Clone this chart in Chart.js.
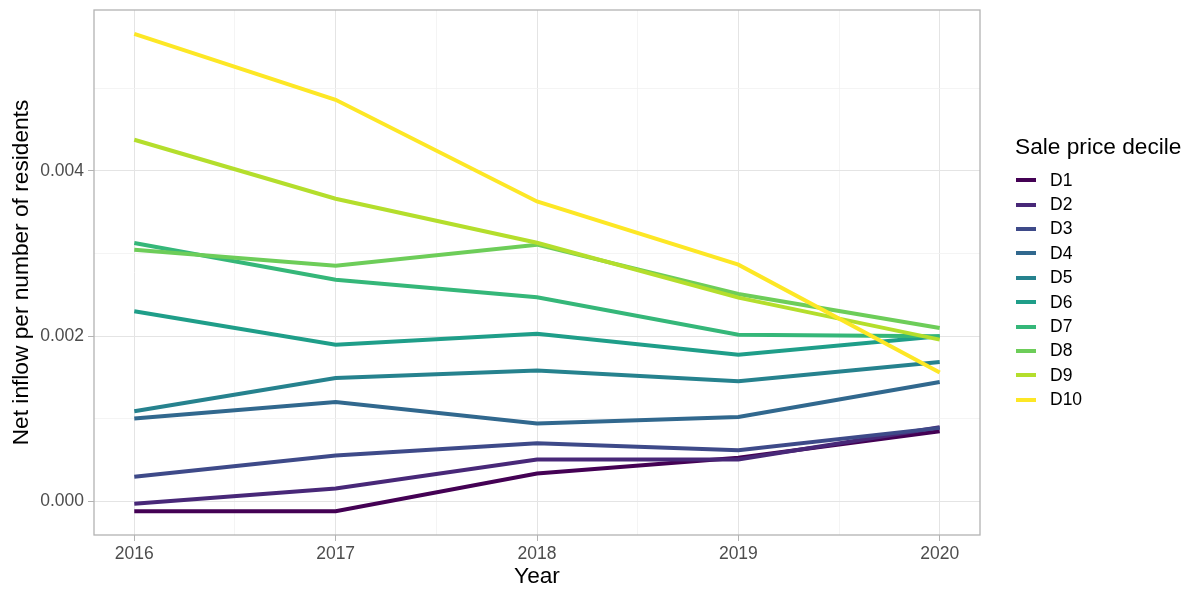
<!DOCTYPE html>
<html>
<head>
<meta charset="utf-8">
<script src="https://cdn.jsdelivr.net/npm/chart.js@4.4.1/dist/chart.umd.min.js"></script>
<style>
  html, body { margin: 0; padding: 0; background: #fff; }
  #wrap { position: relative; width: 1192px; height: 593px; }
  #legend { position: absolute; left: 1015px; top: 132px; font-family: "Liberation Sans", Arial, sans-serif; }
  #legend .title { font-size: 22.7px; color: #000; height: 36px; line-height: 28px; }
  #legend .row { height: 24.4px; display: flex; align-items: center; font-size: 17.5px; color: #000; }
  #legend .key { width: 20px; height: 4px; margin-left: 1px; margin-right: 14px; }
</style>
</head>
<body>
<div id="wrap">
  <canvas id="myChart" width="1192" height="593"></canvas>
  <div id="legend"></div>
</div>
<script>
'use strict';

// categories
var years = [2016, 2017, 2018, 2019, 2020];
var deciles = ['D1', 'D2', 'D3', 'D4', 'D5', 'D6', 'D7', 'D8', 'D9', 'D10'];

// series values
var d1  = [-0.000117, -0.000117, 0.000338, 0.000528, 0.000850];
var d2  = [-0.000028, 0.000157, 0.000508, 0.000508, 0.000898];
var d3  = [0.000298, 0.000556, 0.000705, 0.000620, 0.000890];
var d4  = [0.001003, 0.001204, 0.000943, 0.001023, 0.001446];
var d5  = [0.001091, 0.001494, 0.001583, 0.001454, 0.001688];
var d6  = [0.002300, 0.001897, 0.002030, 0.001776, 0.001998];
var d7  = [0.003126, 0.002683, 0.002469, 0.002018, 0.001998];
var d8  = [0.003045, 0.002852, 0.003106, 0.002510, 0.002099];
var d9  = [0.004375, 0.003662, 0.003130, 0.002465, 0.001958];
var d10 = [0.005656, 0.004858, 0.003629, 0.002864, 0.001559];

// tick labels
var yMajor = [0, 0.002, 0.004];
var yMinor = [0.001, 0.003, 0.005];
var xMinor = [2016.5, 2017.5, 2018.5, 2019.5];

var series = [d1, d2, d3, d4, d5, d6, d7, d8, d9, d10];
var colours = ['#440154', '#482878', '#3E4A89', '#31688E', '#26828E',
               '#1F9E89', '#35B779', '#6DCD59', '#B4DE2C', '#FDE725'];

var FONT = '"Liberation Sans", Arial, sans-serif';

// ggplot-like 5% expansion
var allVals = [].concat.apply([], series);
var vMin = Math.min.apply(null, allVals), vMax = Math.max.apply(null, allVals);
var yPad = (vMax - vMin) * 0.05;
var xPad = (years[years.length - 1] - years[0]) * 0.05;

var datasets = series.map(function (s, i) {
  return {
    label: deciles[i],
    data: s.map(function (v, j) { return { x: years[j], y: v }; }),
    borderColor: colours[i],
    backgroundColor: colours[i],
    borderWidth: 4,
    pointRadius: 0,
    tension: 0,
    order: series.length - i
  };
});

function isIn(list, v) {
  return list.some(function (t) { return Math.abs(t - v) < 1e-9; });
}

var panelBorder = {
  id: 'panelBorder',
  afterDraw: function (chart) {
    var a = chart.chartArea, c = chart.ctx;
    c.save();
    c.strokeStyle = '#B3B3B3';
    c.lineWidth = 1.3;
    c.strokeRect(a.left, a.top, a.right - a.left, a.bottom - a.top);
    c.restore();
  }
};

var ctx = document.getElementById('myChart');

var chart = new Chart(ctx, {
  type: 'line',
  data: { datasets: datasets },
  plugins: [panelBorder],
  options: {
    responsive: false,
    animation: false,
    layout: { padding: { left: 0, top: 10, right: 212, bottom: 0 } },
    plugins: { legend: { display: false }, tooltip: { enabled: false } },
    scales: {
      x: {
        type: 'linear',
        min: years[0] - xPad,
        max: years[years.length - 1] + xPad,
        afterBuildTicks: function (scale) {
          scale.ticks = years.concat(xMinor).sort().map(function (v) { return { value: v }; });
        },
        afterFit: function (scale) { scale.height = 58; },
        ticks: {
          color: '#4D4D4D',
          font: { family: FONT, size: 17.5 },
          padding: 3,
          maxRotation: 0,
          autoSkip: false,
          callback: function (v) { return isIn(years, v) ? String(v) : ''; }
        },
        grid: {
          color: function (c) { return isIn(years, c.tick.value) ? '#E4E4E4' : '#F1F1F1'; },
          lineWidth: function (c) { return isIn(years, c.tick.value) ? 1 : 0.8; },
          tickColor: function (c) { return isIn(years, c.tick.value) ? '#B3B3B3' : 'rgba(0,0,0,0)'; },
          tickLength: 6,
          drawTicks: true
        },
        border: { display: false },
        title: {
          display: true,
          text: 'Year',
          color: '#000',
          font: { family: FONT, size: 22.7 },
          padding: { top: 0, bottom: 3 }
        }
      },
      y: {
        type: 'linear',
        min: vMin - yPad,
        max: vMax + yPad,
        afterBuildTicks: function (scale) {
          scale.ticks = yMajor.concat(yMinor).sort().map(function (v) { return { value: v }; });
        },
        afterFit: function (scale) {
          scale.width = 94;
          scale.paddingTop = 0;
          scale.paddingBottom = 0;
        },
        ticks: {
          color: '#4D4D4D',
          font: { family: FONT, size: 17.5 },
          padding: 4,
          callback: function (v) { return isIn(yMajor, v) ? v.toFixed(3) : ''; }
        },
        grid: {
          color: function (c) { return isIn(yMajor, c.tick.value) ? '#E4E4E4' : '#F1F1F1'; },
          lineWidth: function (c) { return isIn(yMajor, c.tick.value) ? 1 : 0.8; },
          tickColor: function (c) { return isIn(yMajor, c.tick.value) ? '#B3B3B3' : 'rgba(0,0,0,0)'; },
          tickLength: 6,
          drawTicks: true
        },
        border: { display: false },
        title: {
          display: true,
          text: 'Net inflow per number of residents',
          color: '#000',
          font: { family: FONT, size: 22.7 },
          padding: { top: 8, bottom: 0 }
        }
      }
    }
  }
});

// legend
var legend = document.getElementById('legend');
var html = '<div class="title">Sale price decile</div>';
deciles.forEach(function (d, i) {
  html += '<div class="row"><span class="key" style="background:' + colours[i] + '"></span>' + d + '</div>';
});
legend.innerHTML = html;
</script>
</body>
</html>
